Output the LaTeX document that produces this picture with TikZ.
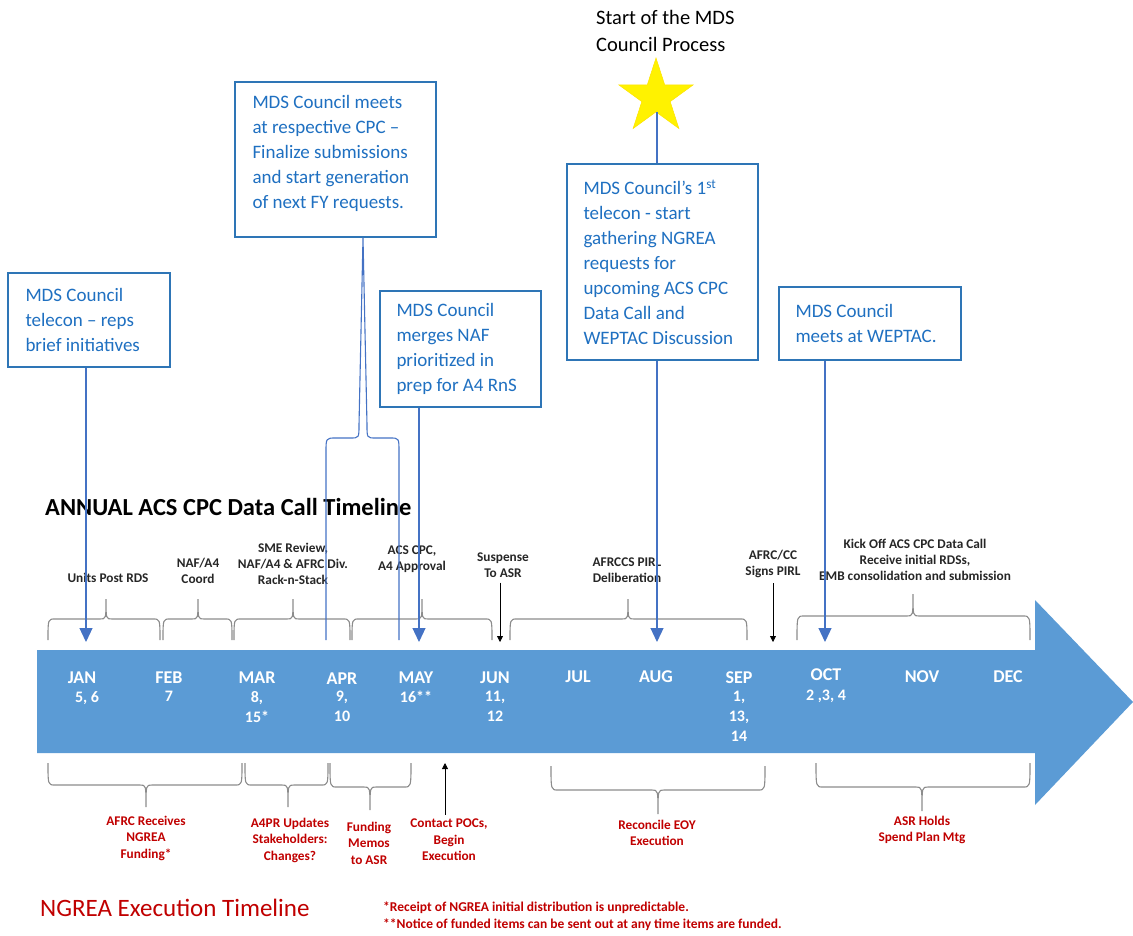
\documentclass[tikz,border=0pt]{standalone}
\usepackage{fontspec}
\setmainfont{Carlito}
\usetikzlibrary{arrows.meta,shapes.geometric}
\definecolor{arrowblue}{HTML}{5B9BD5}
\definecolor{boxblue}{HTML}{2E75B6}
\definecolor{txtblue}{HTML}{1F70C1}
\definecolor{linkblue}{HTML}{4472C4}
\definecolor{bracegray}{HTML}{8C8C8C}
\definecolor{redtxt}{HTML}{C00000}
\tikzset{
  mdsbox/.style={draw=boxblue, line width=1.4pt, fill=white, inner sep=0pt},
  boxtxt/.style={text=txtblue, align=left, anchor=west, inner sep=0pt,
    font=\fontsize{19}{25}\selectfont},
  linkarrow/.style={draw=linkblue, line width=1.2pt, -{Triangle[width=13pt,length=14pt]}},
  linkline/.style={draw=linkblue, line width=1.1pt},
  blackarrow/.style={draw=black, line width=0.8pt, -{Triangle[width=6pt,length=6pt]}},
  bracel/.style={draw=bracegray, line width=1.1pt},
  toplab/.style={text=black!85, font=\bfseries\fontsize{13.3}{16}\selectfont, align=center, inner sep=0pt},
  botlab/.style={text=redtxt, font=\bfseries\fontsize{13.3}{16.5}\selectfont, align=center, inner sep=0pt},
  mon/.style={text=white, font=\bfseries\fontsize{18}{20}\selectfont, inner sep=0pt},
  num/.style={text=white, font=\bfseries\fontsize{16}{20}\selectfont, align=center, anchor=north, inner sep=0pt},
  fnote/.style={text=redtxt, font=\bfseries\fontsize{13.5}{17}\selectfont, anchor=base west, inner sep=0pt},
}
\newcommand{\curlyb}[6]{%
  \draw[bracel] (#1,#4) .. controls (#1,#5) and (#1,#5) .. ({#1+7},#5) -- ({#2-6},#5)
    .. controls (#2,#5) and (#2,#5) .. (#2,#6)
    .. controls (#2,#5) and (#2,#5) .. ({#2+6},#5) -- ({#3-7},#5)
    .. controls (#3,#5) and (#3,#5) .. (#3,#4);}
\begin{document}
\begin{tikzpicture}[x=1pt,y=-1pt]
\useasboundingbox (0,0) rectangle (1133,935);

% big timeline arrow
\fill[arrowblue] (37,650) -- (1035,650) -- (1035,600) -- (1133,702) -- (1035,805)
  -- (1035,753) -- (37,753) -- cycle;

% months
\node[mon] (mJan) at (82,678) {JAN};
\node[mon] (mFeb) at (169,678) {FEB};
\node[mon] (mMar) at (257,678) {MAR};
\node[mon] (mApr) at (342,679) {APR};
\node[mon] (mMay) at (416,678) {MAY};
\node[mon] (mJun) at (495,678) {JUN};
\node[mon] (mJul) at (578,677) {JUL};
\node[mon] (mAug) at (656,677) {AUG};
\node[mon] (mSep) at (739,678) {SEP};
\node[mon] (mOct) at (826,675) {OCT};
\node[mon] (mNov) at (922,677) {NOV};
\node[mon] (mDec) at (1008,677) {DEC};
\node[num] (nJan) at (87,691) {5, 6};
\node[num] (nFeb) at (169,691) {7};
\node[num] (nMar) at (257,691) {8,\\15*};
\node[num] (nApr) at (342,691) {9,\\10};
\node[num] (nMay) at (416,691) {16**};
\node[num] (nJun) at (495,691) {11,\\12};
\node[num] (nSep) at (739,691) {1,\\13,\\14};
\node[num] (nOct) at (826,690) {2 ,3, 4};

% titles
\node[anchor=west, inner sep=0pt, font=\bfseries\fontsize{24.5}{28}\selectfont] (t1) at (45,507) {ANNUAL ACS CPC Data Call Timeline};
\node[anchor=west, inner sep=0pt, text=redtxt, font=\fontsize{25}{28}\selectfont] (t2) at (40,908) {NGREA Execution Timeline};
\node[fnote] (fn1) at (383,911) {*Receipt of NGREA initial distribution is unpredictable.};
\node[fnote] (fn2) at (383,928) {**Notice of funded items can be sent out at any time items are funded.};

% top braces and labels
\curlyb{48}{106}{160}{640}{619}{599}
\curlyb{163}{198}{232}{640}{619}{599}
\curlyb{234}{293}{350}{640}{619}{599}
\curlyb{352}{422}{492}{640}{619}{599}
\curlyb{510}{628}{747}{640}{619}{599}
\curlyb{797}{913}{1030}{640}{616}{594}
\node[toplab] (l1) at (108,578) {Units Post RDS};
\node[toplab] (l2) at (198,571) {NAF/A4\\Coord};
\node[toplab] (l3) at (293,564) {SME Review,\\NAF/A4 \& AFRC Div.\\Rack-n-Stack};
\node[toplab] (l4) at (412,559) {ACS CPC,\\A4 Approval};
\node[toplab] (l5) at (503,565) {Suspense\\To ASR};
\node[toplab] (l6) at (627,570) {AFRCCS PIRL\\Deliberation};
\node[toplab] (l7) at (773,564) {AFRC/CC\\Signs PIRL};
\node[toplab] (l8) at (915,560) {Kick Off ACS CPC Data Call\\Receive initial RDSs,\\EMB consolidation and submission};
\coordinate (s5) at (500,642);
\coordinate (s7) at (773,642);
\draw[blackarrow] (l5.south -| s5) ++(0,5) -- (s5);
\draw[blackarrow] (l7.south -| s7) ++(0,5) -- (s7);

% bottom braces and labels
\curlyb{48}{146}{242}{763}{785}{807}
\curlyb{245}{288}{328}{763}{785}{807}
\curlyb{330}{370}{411}{763}{787}{810}
\curlyb{551}{658}{765}{766}{790}{814}
\curlyb{816}{922}{1030}{763}{787}{811}
\node[botlab] (b1) at (146,838) {AFRC Receives\\NGREA\\Funding*};
\node[botlab] (b2) at (290,840) {A4PR Updates\\Stakeholders:\\Changes?};
\node[botlab] (b3) at (369,843) {Funding\\Memos\\to ASR};
\node[botlab] (b4) at (449,840) {Contact POCs,\\Begin\\Execution};
\node[botlab] (b5) at (657,833) {Reconcile EOY\\Execution};
\node[botlab] (b6) at (922,830) {ASR Holds\\Spend Plan Mtg};
\coordinate (u4) at (445,763);
\draw[blackarrow] (b4.north -| u4) ++(0,-4) -- (u4);

% start of process
\node[anchor=north west, inner sep=0pt, align=left, font=\fontsize{20.5}{27}\selectfont] (st) at (596,10) {Start of the MDS\\Council Process};
\node[star, star points=5, star point ratio=2.618, minimum size=78pt, inner sep=0pt,
  fill=yellow, draw=yellow!85!orange, line width=0.5pt] (star) at (656,97) {};

% MDS boxes
\node[mdsbox, minimum width=162pt, minimum height=94pt] (bA) at (89,320) {};
\node[boxtxt] (tA) at ([xshift=18pt]bA.west) {MDS Council\\telecon -- reps\\brief initiatives};
\node[mdsbox, minimum width=201pt, minimum height=155pt] (bB) at (335.5,159.5) {};
\node[boxtxt] (tB) at ([xshift=18pt,yshift=6.5pt]bB.west) {MDS Council meets\\at respective CPC --\\Finalize submissions\\and start generation\\of next FY requests.};
\node[mdsbox, minimum width=161pt, minimum height=116pt] (bC) at (460.5,349) {};
\node[boxtxt] (tC) at ([xshift=17pt]bC.west) {MDS Council\\merges NAF\\prioritized in\\prep for A4 RnS};
\node[mdsbox, minimum width=191pt, minimum height=196pt] (bD) at (662.5,262) {};
\node[boxtxt] (tD) at ([xshift=17pt]bD.west) {MDS Council’s 1\textsuperscript{st}\\telecon - start\\gathering NGREA\\requests for\\upcoming ACS CPC\\Data Call and\\WEPTAC Discussion};
\node[mdsbox, minimum width=182pt, minimum height=73pt] (bE) at (870,323.5) {};
\node[boxtxt] (tE) at ([xshift=17pt]bE.west) {MDS Council\\meets at WEPTAC.};

% connectors
\coordinate (eA) at (86,642);
\coordinate (eC) at (419,642);
\coordinate (eD) at (657,642);
\coordinate (eE) at (825,642);
\coordinate (xB) at (363,0);
\draw[linkarrow] (bA.south -| eA) -- (eA);
\draw[linkarrow] (bC.south -| eC) -- (eC);
\draw[linkarrow] (bD.south -| eD) -- (eD);
\draw[linkarrow] (bE.south -| eE) -- (eE);
\draw[linkline] (star.south -| eD) -- (bD.north -| eD);
\draw[linkline] (326,640) -- (326,452) .. controls (326,438) and (326,438) .. (336,438) -- (350,438)
  .. controls (359,438) and (359,438) .. (359,425) -- (bB.south -| xB) -- (367,425)
  .. controls (367,438) and (367,438) .. (376,438) -- (390,438)
  .. controls (399,438) and (399,438) .. (399,452) -- (399,640);
\end{tikzpicture}
\end{document}
